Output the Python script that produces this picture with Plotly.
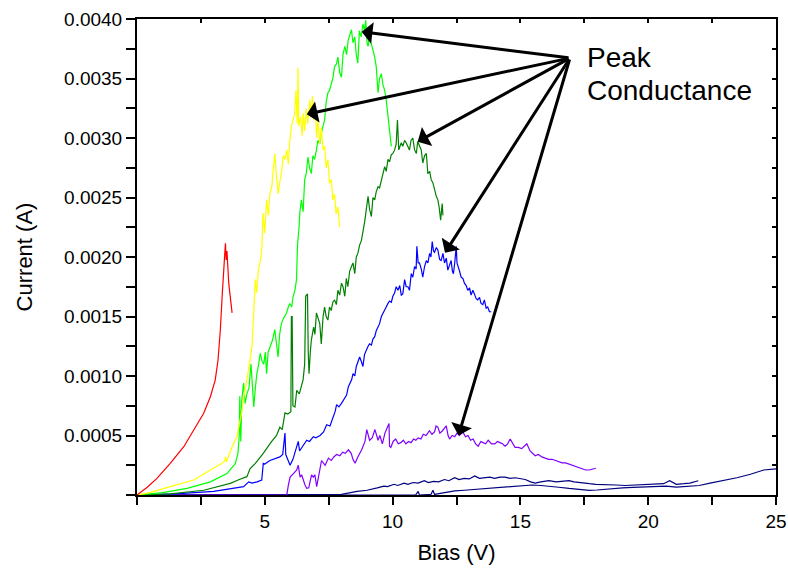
import plotly.graph_objects as go

# ---- data (Bias in V, Current in A) ----
red_x = [0, 0.4, 0.78, 1.30, 1.83, 2.22, 2.61, 2.87, 3.06, 3.17, 3.26, 3.33, 3.39, 3.44, 3.46, 3.49, 3.52, 3.55,
         3.59, 3.62, 3.66, 3.72]
red_y = [0, 0.000065, 0.00014, 0.000266, 0.000406, 0.000546, 0.000687, 0.000826, 0.000966, 0.001134, 0.001387,
         0.001666, 0.001947, 0.00205, 0.002115, 0.001975, 0.00205, 0.0019, 0.00178, 0.00172, 0.00163, 0.00153]

yel_x = [0, 0.5, 1.3, 2.22, 2.87, 3.33, 3.44, 3.46, 3.5, 3.6, 3.72, 3.91, 4.0, 4.1, 4.2, 4.30, 4.4, 4.5, 4.55, 4.6,
         4.63, 4.68, 4.75, 4.83, 4.89, 4.93, 5.0, 5.07, 5.14, 5.2, 5.28, 5.34, 5.39, 5.45, 5.52, 5.58, 5.65,
         5.72, 5.78, 5.86, 5.92, 5.98, 6.04, 6.12, 6.17, 6.22, 6.27, 6.30, 6.33, 6.4, 6.46, 6.5, 6.56, 6.62, 6.68,
         6.76, 6.82, 6.86, 6.92, 6.98, 7.03, 7.08, 7.15, 7.21, 7.28, 7.34, 7.40, 7.47, 7.53, 7.6, 7.66, 7.73, 7.79,
         7.86, 7.90, 7.93]
yel_y = [0, 0.00002, 0.00007, 0.000126, 0.00021, 0.000266, 0.00029, 0.00032, 0.00028, 0.00034, 0.000406, 0.00049,
         0.00058, 0.0007, 0.00085, 0.00097, 0.0011, 0.00125, 0.0015, 0.0017, 0.00181, 0.0017, 0.0019, 0.00197,
         0.00209, 0.00237, 0.0022, 0.00248, 0.00235, 0.00253, 0.0026, 0.00276, 0.00287, 0.0027, 0.00253, 0.00262,
         0.0027, 0.00285, 0.00282, 0.0029, 0.00278, 0.00298, 0.0031, 0.00316, 0.00321, 0.0034, 0.00312, 0.00359,
         0.0031, 0.00318, 0.00302, 0.00321, 0.00306, 0.00325, 0.00312, 0.00332, 0.00318, 0.00335, 0.00315, 0.00322,
         0.003, 0.00315, 0.00295, 0.00309, 0.0029, 0.00293, 0.00275, 0.00282, 0.00262, 0.00265, 0.00248, 0.00253,
         0.00236, 0.00242, 0.00228, 0.00225]

lg_x = [0, 1.0, 1.96, 2.87, 3.52, 3.85, 3.95, 4.0, 4.02, 4.06, 4.1, 4.17, 4.23, 4.3, 4.38, 4.46, 4.52, 4.57, 4.63,
        4.69, 4.76, 4.82, 4.9, 4.96, 5.02, 5.07, 5.13, 5.2, 5.3, 5.39, 5.45, 5.52, 5.58, 5.65, 5.72, 5.85, 5.92,
        5.98, 6.05, 6.11, 6.18, 6.24, 6.28, 6.30, 6.34, 6.37, 6.43, 6.50, 6.56, 6.62, 6.69, 6.75, 6.82, 6.88, 6.95,
        7.02, 7.08, 7.15, 7.21, 7.28, 7.34, 7.40, 7.47, 7.53, 7.6, 7.66, 7.73, 7.8, 7.86, 7.93, 8.0, 8.06, 8.13,
        8.2, 8.26, 8.33, 8.39, 8.45, 8.52, 8.58, 8.64, 8.7, 8.77, 8.84, 8.9, 8.95, 9.0, 9.04, 9.1, 9.16, 9.23, 9.3,
        9.36, 9.43, 9.49, 9.56, 9.62, 9.69, 9.75, 9.82, 9.88, 9.95]
lg_y = [0, 0.00002, 0.000056, 0.00011, 0.00018, 0.000266, 0.00035, 0.0005, 0.00083, 0.00045, 0.0008, 0.00094,
        0.00077, 0.00085, 0.0009, 0.0011, 0.0009, 0.00074, 0.0009, 0.00102, 0.0011, 0.00119, 0.00112, 0.0011,
        0.0012, 0.00102, 0.0012, 0.00125, 0.0013, 0.00139, 0.0013, 0.00116, 0.00135, 0.00144, 0.00148, 0.00153,
        0.00158, 0.00161, 0.00158, 0.00167, 0.00172, 0.00181, 0.0021, 0.00214, 0.00225, 0.00237, 0.00248, 0.00238,
        0.00265, 0.0027, 0.00284, 0.00275, 0.0027, 0.00285, 0.00282, 0.0029, 0.00298, 0.00295, 0.00304, 0.0031,
        0.00315, 0.0033, 0.00338, 0.0034, 0.00346, 0.0035, 0.0036, 0.00362, 0.00368, 0.00355, 0.00351, 0.0037,
        0.00377, 0.0037, 0.00382, 0.00388, 0.00391, 0.0038, 0.00385, 0.0037, 0.00363, 0.0039, 0.00385, 0.00396,
        0.0039, 0.00399, 0.0038, 0.00377, 0.00388, 0.0038, 0.00374, 0.00368, 0.0036, 0.00338, 0.0035, 0.00354,
        0.00345, 0.0034, 0.00332, 0.00318, 0.00304, 0.00293]

dg_x = [0, 1.3, 2.61, 3.2, 3.65, 4.0, 4.30, 4.42, 4.63, 4.94, 5.1, 5.27, 5.46, 5.59, 5.68, 5.79, 5.9, 6.02, 6.04,
        6.07, 6.10, 6.18, 6.25, 6.35, 6.5, 6.56, 6.60, 6.67, 6.70, 6.73, 6.78, 6.82, 6.91, 6.96, 7.02, 7.08, 7.15,
        7.21, 7.28, 7.34, 7.40, 7.47, 7.53, 7.6, 7.66, 7.73, 7.8, 7.86, 7.93, 8.0, 8.06, 8.13, 8.19, 8.25, 8.32,
        8.39, 8.45, 8.52, 8.58, 8.64, 8.71, 8.78, 8.84, 8.91, 8.97, 9.04, 9.10, 9.17, 9.23, 9.30, 9.36, 9.43, 9.49,
        9.56, 9.62, 9.69, 9.75, 9.82, 9.88, 9.95, 10.01, 10.08, 10.14, 10.19, 10.24, 10.34, 10.4, 10.47, 10.53,
        10.6, 10.66, 10.72, 10.79, 10.86, 10.93, 10.98, 11.05, 11.12, 11.18, 11.25, 11.32, 11.38, 11.45, 11.51,
        11.58, 11.64, 11.71, 11.77, 11.82, 11.88, 11.94, 11.97]
dg_y = [0, 0.00001, 0.00004, 0.00007, 0.000098, 0.00013, 0.000154, 0.00022, 0.000266, 0.00035, 0.0004, 0.00045,
        0.0005, 0.00057, 0.00055, 0.00069, 0.00068, 0.0007, 0.0015, 0.0015, 0.00075, 0.00074, 0.00088, 0.00085,
        0.00097, 0.0011, 0.00167, 0.00169, 0.0012, 0.00102, 0.0012, 0.0013, 0.00141, 0.00135, 0.00153, 0.00148,
        0.00144, 0.00127, 0.0015, 0.00158, 0.0015, 0.00147, 0.00158, 0.00155, 0.00162, 0.00164, 0.0016, 0.00172,
        0.00168, 0.00178, 0.00175, 0.00167, 0.00182, 0.00175, 0.00188, 0.00192, 0.00195, 0.00186, 0.002, 0.00203,
        0.0021, 0.00214, 0.0022, 0.0023, 0.0024, 0.00251, 0.0024, 0.00234, 0.0025, 0.00248, 0.00255, 0.00259,
        0.00258, 0.00265, 0.0027, 0.00276, 0.00272, 0.00282, 0.0028, 0.00286, 0.00287, 0.0029, 0.00295, 0.00315,
        0.0029, 0.00296, 0.00293, 0.00298, 0.00296, 0.00292, 0.0029, 0.00298, 0.003, 0.0029, 0.00287, 0.00297,
        0.00293, 0.0029, 0.00279, 0.00285, 0.00287, 0.0027, 0.00272, 0.00265, 0.00262, 0.00256, 0.00251, 0.00248,
        0.00242, 0.00231, 0.00245, 0.00235]

bl_x = [0, 1.5, 3.0, 4.17, 4.37, 4.5, 4.7, 4.88, 4.94, 5.0, 5.2, 5.59, 5.7, 5.79, 5.82, 5.9, 5.99, 6.1, 6.18, 6.31,
        6.36, 6.45, 6.64, 6.75, 6.9, 7.0, 7.16, 7.3, 7.42, 7.55, 7.68, 7.75, 7.81, 7.9, 8.0, 8.1, 8.2, 8.27, 8.4,
        8.45, 8.52, 8.58, 8.64, 8.71, 8.78, 8.84, 8.9, 8.97, 9.04, 9.10, 9.17, 9.23, 9.30, 9.36, 9.43, 9.49, 9.56,
        9.62, 9.69, 9.75, 9.82, 9.88, 9.95, 10.01, 10.08, 10.14, 10.21, 10.28, 10.34, 10.4, 10.47, 10.53, 10.6,
        10.66, 10.73, 10.79, 10.86, 10.92, 10.95, 11.0, 11.05, 11.12, 11.18, 11.25, 11.32, 11.38, 11.45, 11.50,
        11.55, 11.60, 11.64, 11.71, 11.77, 11.84, 11.9, 11.97, 12.03, 12.1, 12.16, 12.23, 12.29, 12.34, 12.38,
        12.43, 12.49, 12.52, 12.55, 12.62, 12.68, 12.75, 12.81, 12.88, 12.94, 13.01, 13.07, 13.14, 13.2, 13.27,
        13.33, 13.4, 13.46, 13.53, 13.59, 13.66, 13.72, 13.79, 13.86]
bl_y = [0, 0.00001, 0.00003, 0.00007, 0.00011, 0.0001, 0.00011, 0.000126, 0.000266, 0.00026, 0.00029, 0.00032,
        0.00034, 0.00052, 0.00034, 0.0003, 0.00025, 0.0003, 0.000364, 0.00045, 0.00037, 0.0004, 0.00046, 0.00045,
        0.00049, 0.00048, 0.0005, 0.00053, 0.00059, 0.00058, 0.00066, 0.0007, 0.00076, 0.00074, 0.00077, 0.0008,
        0.00084, 0.00091, 0.00097, 0.00102, 0.001, 0.00108, 0.00112, 0.00116, 0.00112, 0.00108, 0.00118, 0.00122,
        0.00125, 0.00127, 0.00126, 0.00131, 0.00133, 0.00138, 0.00141, 0.00144, 0.0015, 0.00153, 0.00155, 0.00158,
        0.00161, 0.00163, 0.00162, 0.00167, 0.0017, 0.00175, 0.00172, 0.00176, 0.00168, 0.00169, 0.00181, 0.00175,
        0.00175, 0.00172, 0.00186, 0.00183, 0.00192, 0.0019, 0.00209, 0.00195, 0.00195, 0.0019, 0.00183, 0.00192,
        0.00197, 0.00195, 0.00203, 0.002, 0.00213, 0.00205, 0.00204, 0.00208, 0.00206, 0.00198, 0.00197, 0.00203,
        0.00195, 0.00199, 0.00189, 0.00194, 0.00197, 0.00188, 0.00186, 0.00195, 0.00209, 0.00195, 0.00192, 0.00188,
        0.00183, 0.00182, 0.00178, 0.00176, 0.00172, 0.00174, 0.00168, 0.00172, 0.00169, 0.00165, 0.00164, 0.00166,
        0.00161, 0.0016, 0.00164, 0.00157, 0.00158, 0.00154, 0.00154]

pu_x = [0, 5.86, 5.92, 5.99, 6.12, 6.25, 6.31, 6.38, 6.44, 6.5, 6.58, 6.64, 6.72, 6.78, 6.83, 6.9, 6.96, 7.03, 7.1,
        7.16, 7.22, 7.36, 7.49, 7.6, 7.7, 7.81, 7.93, 8.05, 8.15, 8.27, 8.38, 8.45, 8.53, 8.64, 8.79, 8.92, 8.99,
        9.1, 9.2, 9.31, 9.43, 9.5, 9.6, 9.7, 9.75, 9.86, 9.88, 9.93, 10.02, 10.12, 10.22, 10.32, 10.42, 10.52,
        10.62, 10.72, 10.82, 10.91, 11.0, 11.11, 11.2, 11.31, 11.44, 11.54, 11.64, 11.70, 11.77, 11.85, 11.95,
        12.03, 12.1, 12.17, 12.23, 12.33, 12.43, 12.52, 12.62, 12.75, 12.85, 12.95, 13.05, 13.15, 13.25, 13.35,
        13.45, 13.54, 13.64, 13.74, 13.87, 14.0, 14.1, 14.2, 14.3, 14.4, 14.5, 14.6, 14.7, 14.79, 14.92, 15.05,
        15.15, 15.25, 15.38, 15.48, 15.58, 15.7, 15.84, 15.97, 16.11, 16.24, 16.37, 16.5, 16.63, 16.77, 16.9,
        17.03, 17.16, 17.29, 17.42, 17.55, 17.69, 17.82, 17.95]
pu_y = [0, 0, 0.00008, 0.00015, 0.00018, 0.00021, 0.00025, 0.00015, 0.00017, 0.000126, 0.00008, 0.000056, 0.00006,
        0.00012, 0.00017, 0.00015, 0.00017, 0.00007, 0.00015, 0.00021, 0.00029, 0.00025, 0.00031, 0.00029, 0.00032,
        0.00034, 0.00033, 0.00036, 0.00035, 0.00038, 0.00035, 0.0003, 0.000266, 0.00032, 0.00038, 0.00045, 0.00055,
        0.00046, 0.00048, 0.00055, 0.00046, 0.0005, 0.00043, 0.00052, 0.00055, 0.0006, 0.00041, 0.0004, 0.00045,
        0.00047, 0.00043, 0.00044, 0.00046, 0.00043, 0.00045, 0.00044, 0.00047, 0.00046, 0.00048, 0.00047, 0.00051,
        0.0005, 0.00054, 0.00051, 0.00053, 0.00058, 0.00057, 0.00052, 0.00054, 0.00056, 0.00058, 0.0005, 0.00047,
        0.0005, 0.00049, 0.00052, 0.0005, 0.00053, 0.00049, 0.0005, 0.00046, 0.00047, 0.00043, 0.00041, 0.00045,
        0.00044, 0.00043, 0.00046, 0.00043, 0.00043, 0.00045, 0.00044, 0.00043, 0.00041, 0.00043, 0.00047, 0.00043,
        0.0004, 0.0004, 0.00039, 0.00041, 0.00043, 0.00037, 0.00035, 0.00033, 0.00034, 0.00032, 0.00031, 0.0003,
        0.0003, 0.00029, 0.00028, 0.00027, 0.00027, 0.00026, 0.00025, 0.000245, 0.00023, 0.00022, 0.00021, 0.00021,
        0.00022, 0.000225]

nv1_x = [0, 7.0, 8.0, 8.61, 9.0, 9.4, 9.66, 9.8, 10.06, 10.2, 10.45, 10.6, 10.8, 11.0, 11.24, 11.4, 11.6, 11.8, 12.03,
         12.2, 12.43, 12.6, 12.8, 13.0, 13.21, 13.4, 13.6, 13.8, 14.0, 14.2, 14.4, 14.6, 14.8, 15.0, 15.19, 15.4,
         15.58, 15.8, 16.11, 16.4, 16.6, 16.9, 17.1, 17.42, 17.7, 17.95, 18.3, 18.74, 19.1, 19.53, 19.9, 20.32, 20.6,
         20.84, 21.0, 21.1, 21.4, 21.63, 21.96]
nv1_y = [0, 0, 0.000005, 0.00003, 0.00004, 0.00006, 0.000075, 0.00007, 0.00009, 0.00008, 0.0001, 0.00009, 0.000105,
         0.0001, 0.00012, 0.000105, 0.000115, 0.00011, 0.00013, 0.00012, 0.000145, 0.00013, 0.00014, 0.000135, 0.00016,
         0.00014, 0.000145, 0.00015, 0.00014, 0.00015, 0.00015, 0.00014, 0.000145, 0.00014, 0.00013, 0.00011, 0.0001,
         0.00011, 0.00012, 0.00011, 0.000115, 0.00012, 0.00011, 0.0001, 0.000095, 0.00009, 0.000085, 0.000084, 0.00008,
         0.000084, 0.000085, 0.00009, 0.000095, 0.00012, 0.0001, 0.00009, 0.000095, 0.0001, 0.00012]

nv2_x = [0, 10.9, 11.0, 11.05, 11.5, 11.58, 11.64, 12.0, 12.43, 12.8, 13.21, 13.6, 14.0, 14.4, 14.79, 15.1, 15.45,
         15.8, 16.11, 16.5, 16.9, 17.3, 17.69, 18.0, 18.21, 18.6, 19.0, 19.4, 19.79, 20.2, 20.71, 21.1, 21.5, 22.0,
         22.42, 22.95, 23.47, 24.0, 24.52, 25.0]
nv2_y = [0, 0, 0.00003, 0.0, 0.000005, 0.00004, 0.000005, 0.00002, 0.000034, 0.00004, 0.000047, 0.000055, 0.00006,
         0.000068, 0.000075, 0.00008, 0.000084, 0.00008, 0.000075, 0.000065, 0.000055, 0.000045, 0.000039, 0.000042,
         0.000047, 0.000055, 0.00006, 0.000064, 0.000067, 0.00007, 0.000075, 0.000067, 0.00007, 0.00008, 0.0001,
         0.00012, 0.000145, 0.000174, 0.00021, 0.00022]

x_ticks = [5, 10, 15, 20, 25]
y_ticks = [0.0005, 0.0010, 0.0015, 0.0020, 0.0025, 0.0030, 0.0035, 0.0040]
y_ticktext = ["0.0005", "0.0010", "0.0015", "0.0020", "0.0025", "0.0030", "0.0035", "0.0040"]

# arrow heads (data coords) and common tail
arrow_heads = [(8.79, 0.003893), (6.64, 0.00320), (10.98, 0.002969), (12.05, 0.002036), (12.58, 0.000500)]
arrow_tail = (16.94, 0.003672)

FONT = "Arial, Liberation Sans, sans-serif"

series = [
    (nv2_x, nv2_y, "#000080"),
    (nv1_x, nv1_y, "#000080"),
    (pu_x, pu_y, "#8000FF"),
    (bl_x, bl_y, "#0000FF"),
    (dg_x, dg_y, "#008000"),
    (lg_x, lg_y, "#00FF00"),
    (yel_x, yel_y, "#FFFF00"),
    (red_x, red_y, "#FF0000"),
]

fig = go.Figure()
for xs, ys, c in series:
    fig.add_trace(go.Scatter(x=xs, y=ys, mode="lines", line=dict(color=c, width=1.2),
                             showlegend=False, hoverinfo="skip"))

# invisible trace for mirrored (top/right) tick axes
fig.add_trace(go.Scatter(x=[0], y=[0], xaxis="x2", yaxis="y2", mode="markers",
                         marker=dict(opacity=0), showlegend=False, hoverinfo="skip"))

annotations = []
for hx, hy in arrow_heads:
    annotations.append(dict(x=hx, y=hy, xref="x", yref="y", ax=arrow_tail[0], ay=arrow_tail[1],
                            axref="x", ayref="y", showarrow=True, arrowhead=1, arrowsize=1.2,
                            arrowwidth=3, arrowcolor="black", text="", standoff=0))
annotations.append(dict(x=(586 - 137) / 639, y=(495 - 57.5) / 476, xref="paper", yref="paper",
                        xanchor="left", yanchor="middle", align="left", showarrow=False, borderpad=0,
                        text="Peak", font=dict(family=FONT, size=28, color="black")))
annotations.append(dict(x=(586 - 137) / 639, y=(495 - 90) / 476, xref="paper", yref="paper",
                        xanchor="left", yanchor="middle", align="left", showarrow=False, borderpad=0,
                        text="Conductance", font=dict(family=FONT, size=28, color="black")))

fig.update_layout(
    width=788, height=569,
    margin=dict(l=137, r=12, t=19, b=74, autoexpand=False),
    paper_bgcolor="white", plot_bgcolor="white",
    font=dict(family=FONT, size=19, color="black"),
    annotations=annotations,
    xaxis=dict(range=[0, 25], tickvals=x_ticks, ticktext=[str(v) for v in x_ticks],
               ticks="outside", ticklen=8, tickwidth=1.5, tickcolor="black", automargin=False,
               minor=dict(tick0=0, dtick=2.5, ticks="outside", ticklen=8, tickwidth=1.5, tickcolor="black"),
               showline=True, linewidth=2, linecolor="black", mirror=True,
               showgrid=False, zeroline=False,
               title=dict(text="Bias (V)", font=dict(size=22), standoff=14),
               tickfont=dict(size=19)),
    yaxis=dict(range=[0, 0.004], tickvals=y_ticks, ticktext=y_ticktext,
               ticks="outside", ticklen=9, tickwidth=1.5, tickcolor="black", automargin=False,
               minor=dict(tick0=0, dtick=0.00025, ticks="outside", ticklen=9, tickwidth=1.5, tickcolor="black"),
               showline=True, linewidth=2, linecolor="black", mirror=True,
               showgrid=False, zeroline=False,
               title=dict(text="Current (A)", font=dict(size=22), standoff=25),
               tickfont=dict(size=19)),
    xaxis2=dict(range=[0, 25], overlaying="x", side="top", dtick=2.5, tick0=0, automargin=False,
                ticks="inside", ticklen=4, tickwidth=1.5, tickcolor="black",
                showticklabels=False, showgrid=False, zeroline=False, showline=False),
    yaxis2=dict(range=[0, 0.004], overlaying="y", side="right", dtick=0.00025, tick0=0, automargin=False,
                ticks="inside", ticklen=4, tickwidth=1.5, tickcolor="black",
                showticklabels=False, showgrid=False, zeroline=False, showline=False),
)

fig.write_html("out.html")
